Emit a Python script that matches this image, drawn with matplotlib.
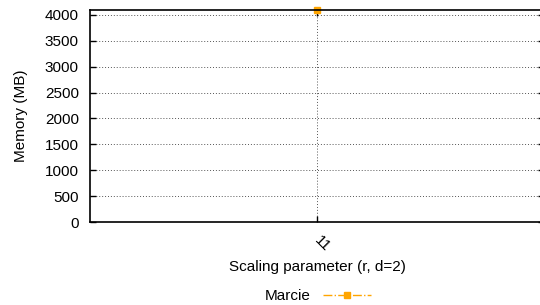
import matplotlib
matplotlib.use("Agg")
import matplotlib.pyplot as plt
from matplotlib.ticker import MultipleLocator

plt.rcParams['font.family'] = ['Liberation Sans', 'DejaVu Sans']

categories = [11]
marcie = [4096]
tick_labels = ["11"]

FS = 11

fig = plt.figure(figsize=(5.4, 3.05), dpi=100)
ax = fig.add_axes([90/540, 1-222/305, (544-90)/540, 212/305])

ax.plot(categories, marcie, color='#FFA500', linestyle='-.', linewidth=1,
        marker='s', markersize=4, label='Marcie', clip_on=False)

ax.set_xlim(10, 12)
ax.set_ylim(0, 4096)
ax.set_xticks(categories)
ax.set_xticklabels(tick_labels, rotation=-45, ha='left', va='center',
                   rotation_mode='anchor', fontsize=FS)
ax.yaxis.set_major_locator(MultipleLocator(500))
ax.tick_params(axis='y', labelsize=FS, direction='in', right=True, length=4, width=1, pad=8)
ax.tick_params(axis='x', direction='in', top=True, length=4, width=1, pad=12)
ax.grid(True, linestyle=(0, (1, 2)), color='#555555', linewidth=0.7)
for s in ax.spines.values():
    s.set_linewidth(1.2)
ax.spines['right'].set_visible(False)

ax.set_ylabel('Memory (MB)', fontsize=FS, labelpad=12)
ax.set_xlabel('Scaling parameter (r, d=2)', fontsize=FS, labelpad=4)

fig.legend(loc='center', bbox_to_anchor=(318/540, 1-296/305), frameon=False,
           markerfirst=False, fontsize=FS, handlelength=3.2)

fig.savefig('out.png', dpi=100)
